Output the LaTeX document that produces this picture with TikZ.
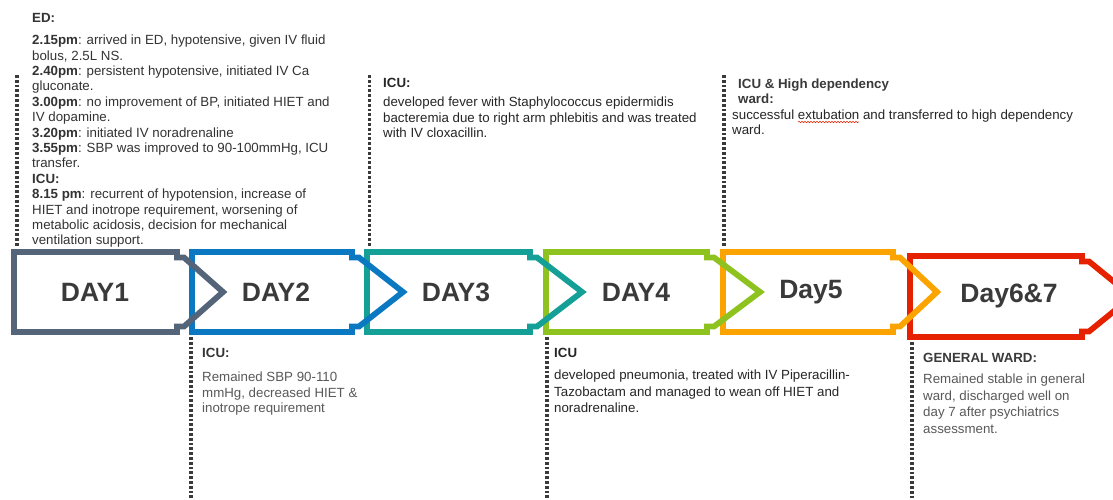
\documentclass[tikz,border=0pt]{standalone}
\usepackage{fontspec}
\setmainfont{Liberation Sans}
\usetikzlibrary{decorations.pathmorphing}
\definecolor{cslate}{HTML}{546579}
\definecolor{cblue}{HTML}{0A79C2}
\definecolor{cteal}{HTML}{14A096}
\definecolor{cgreen}{HTML}{8DC21F}
\definecolor{corange}{HTML}{FBA400}
\definecolor{cred}{HTML}{E62100}
\definecolor{tdark}{HTML}{333333}
\definecolor{tblack}{HTML}{262626}
\definecolor{tgray}{HTML}{595959}
\definecolor{tlabel}{HTML}{3A3A3A}
\definecolor{dotgray}{HTML}{3A3A3A}
\newcommand\chevronpath[6]{%
  \draw[chev, draw=#6] (#1,#4) -- (#2,#4) -- (#2,#4+5.5) -- ({#2+7},#4+5.5) -- (#3,{(#4+#5)/2}) -- ({#2+7},#5-5.5) -- (#2,#5-5.5) -- (#2,#5) -- (#1,#5) -- cycle;}
\begin{document}
\begin{tikzpicture}[x=1pt,y=-1pt,
  chev/.style={line width=5.8pt, line join=miter, miter limit=10},
  daylbl/.style={font=\bfseries\fontsize{26.5}{30}\selectfont, text=tlabel, inner sep=0pt},
  txt/.style={font=\fontsize{13.3}{15.4}\selectfont, align=left, anchor=north west, inner sep=0pt},
  dotline/.style={draw=dotgray, line width=3.4pt, dash pattern=on 2.8pt off 2pt}
]
\fill[white] (0,0) rectangle (1113,500);
\useasboundingbox (0,0) rectangle (1113,500);

% chevrons (later ones first, so earlier ones lie on top)
\chevronpath{910}{1082}{1132}{256}{337}{cred}
\chevronpath{723}{893}{937}{252}{332}{corange}
\chevronpath{546}{707}{760}{252}{332}{cgreen}
\chevronpath{367}{530}{582}{252}{332}{cteal}
\chevronpath{192}{352}{403}{252}{332}{cblue}
\chevronpath{14}{177}{223}{252}{332}{cslate}

\node[daylbl] (d1) at (95,292) {DAY1};
\node[daylbl] (d2) at (276,292) {DAY2};
\node[daylbl] (d3) at (456,292) {DAY3};
\node[daylbl] (d4) at (636,292) {DAY4};
\node[daylbl] (d5) at (811,292) {Day5};
\node[daylbl] (d6) at (1009,296) {Day6\&7};

% dotted markers
\coordinate (v1a) at (17,75);   \coordinate (v1b) at (17,247);
\coordinate (v3a) at (369.5,75); \coordinate (v3b) at (369.5,246);
\coordinate (v5a) at (724,75);  \coordinate (v5b) at (724,246);
\coordinate (v2a) at (191,337); \coordinate (v2b) at (191,500);
\coordinate (v4a) at (547,337); \coordinate (v4b) at (547,500);
\coordinate (v6a) at (912,342); \coordinate (v6b) at (912,500);
\draw[dotline] (v1a) -- (v1b);
\draw[dotline] (v3a) -- (v3b);
\draw[dotline] (v5a) -- (v5b);
\draw[dotline] (v2a) -- (v2b);
\draw[dotline] (v4a) -- (v4b);
\draw[dotline] (v6a) -- (v6b);

% texts
\node[txt, text=tdark] (ed) at (32,13.3) {\textbf{ED:}\\[6.6pt]
\textbf{2.15pm}: arrived in ED, hypotensive, given IV fluid\\
bolus, 2.5L NS.\\
\textbf{2.40pm}: persistent hypotensive, initiated IV Ca\\
gluconate.\\
\textbf{3.00pm}: no improvement of BP, initiated HIET and\\
IV dopamine.\\
\textbf{3.20pm}: initiated IV noradrenaline\\
\textbf{3.55pm}: SBP was improved to 90-100mmHg, ICU\\
transfer.\\
\textbf{ICU:}\\
\textbf{8.15 pm}: recurrent of hypotension, increase of\\
HIET and inotrope requirement, worsening of\\
metabolic acidosis, decision for mechanical\\
ventilation support.};

\node[txt, text=tblack] (t3) at (383,78.3) {\textbf{ICU:}\\[3.6pt]
developed fever with Staphylococcus epidermidis\\
bacteremia due to right arm phlebitis and was treated\\
with IV cloxacillin.};

\node[txt, text=tlabel, font=\bfseries\fontsize{13.3}{15.4}\selectfont] (t5h) at (738,78.3) {ICU \& High dependency\\ward:};
\node[txt, text=tblack] (t5) at (732,109.6) {successful extubation and transferred to high dependency\\ward.};
\draw[cred, line width=0.5pt, decorate, decoration={snake, amplitude=0.7pt, segment length=3pt}] (798,122) -- (859,122);

\node[txt, text=tgray] (b2) at (202,348.3) {\textcolor{tdark}{\textbf{ICU:}}\\[8.6pt]
Remained SBP 90-110\\
mmHg, decreased HIET \&\\
inotrope requirement};

\node[txt, text=tblack, font=\fontsize{13.3}{16.3}\selectfont] (b4) at (554,348.3) {\textbf{ICU}\\[5.7pt]
developed pneumonia, treated with IV Piperacillin-\\
Tazobactam and managed to wean off HIET and\\
noradrenaline.};

\node[txt, text=tgray, font=\fontsize{13.3}{16.6}\selectfont] (b6) at (923,353.3) {\textcolor{tlabel}{\textbf{GENERAL WARD:}}\\[4.4pt]
Remained stable in general\\
ward, discharged well on\\
day 7 after psychiatrics\\
assessment.};
\end{tikzpicture}
\end{document}
